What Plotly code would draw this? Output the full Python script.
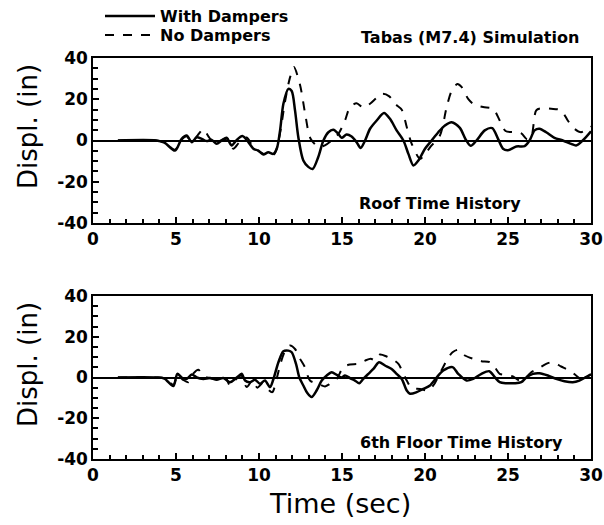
import plotly.graph_objects as go

# ---------------- data ----------------
roof_wd_t = [1.5, 3.8, 4.3, 4.94, 5.34, 5.64, 5.95, 6.25, 6.55, 6.85, 7.15, 7.45, 7.75, 8.05, 8.35, 8.66, 9.0,
             9.36, 9.66, 9.96, 10.26, 10.56, 10.86, 11.07, 11.27, 11.47, 11.77, 11.97, 12.17, 12.37, 12.67, 12.97,
             13.23, 13.57, 13.88, 14.18, 14.48, 14.78, 14.98, 15.28, 15.58, 15.88, 16.12, 16.39, 16.69, 17.09,
             17.53, 17.89, 18.29, 18.7, 19.0, 19.3, 19.6, 20.0, 20.4, 20.8, 21.2, 21.6, 22.1, 22.45, 22.75, 23.1,
             23.6, 24.05, 24.4, 24.7, 25.0, 25.5, 26.0, 26.3, 26.6, 26.9, 27.3, 27.8, 28.3, 28.8, 29.1, 29.5, 30.0]
roof_wd = [0, 0, -1, -4.9, 0.8, 2.4, -0.8, 1.6, 0.8, -0.3, 0.3, -1.6, 0, 1.3, -2.4, 0.3, 2.2,
           -0.8, -4, -4.9, -6.8, -5.7, -6.5, -4, 4.9, 17.8, 25, 24, 14.6, 1.6, -9.7, -12.8,
           -13.8, -8, 0, 4, 5.2, 3.2, 1.3, 2.9, 1.9, -0.8, -3.6, 0, 5.7, 9.7,
           13.3, 10.5, 4.9, 0, -6.5, -12.1, -9.7, -4, 0, 4, 7.3, 8.9, 6.1, 0.5, -2.6, 0,
           4.9, 6, 0.8, -4, -4.7, -2.9, -2.7, 0, 4.9, 5.7, 4, 1.3, 0, -1.6, -2.4, 0, 4.5]

roof_nd_t = [1.5, 3.8, 4.3, 4.94, 5.34, 5.64, 5.95, 6.3, 6.65, 6.95, 7.25, 7.55, 7.85, 8.1, 8.45, 8.8, 9.26,
             9.6, 9.96, 10.3, 10.6, 10.9, 11.1, 11.3, 11.55, 11.85, 12.1, 12.47, 12.8, 13.1, 13.6, 13.97,
             14.38, 14.78, 15.18, 15.48, 15.88, 16.29, 16.69, 17.09, 17.45, 17.85, 18.19, 18.6, 18.9, 19.2,
             19.7, 20.0, 20.4, 20.9, 21.3, 21.6, 21.95, 22.2, 22.6, 22.95, 23.5, 24.1, 24.5, 24.85, 25.4,
             25.8, 26.15, 26.4, 26.7, 27.0, 27.6, 28.2, 28.6, 29.0, 29.4, 29.8, 30.0]
roof_nd = [0, 0, -1, -4.5, 0.5, 2.0, -0.5, 2.5, 5.5, 2, -0.8, -0.5, 0.5, 0.8, -4, -1, 1.5,
           -2.5, -5, -6.5, -6, -6.8, -3, 5, 18, 30, 35.6, 27, 12, 1, -3.2, -2.4,
           0, 3.2, 9.7, 16.2, 18.1, 15.9, 17.8, 20.7, 22.7, 21.4, 17.8, 14.9, 6.5, -1.6,
           -8.9, -6.5, -2.4, 2.4, 16, 24, 27.4, 26, 20.2, 17.5, 16.2, 15.4, 9.7, 4.6, 4,
           3.5, 0.6, 1.8, 14.6, 15.6, 15.4, 14.6, 9.7, 5.7, 4, 5.7, 6.8]

floor_wd_t = [1.5, 3.8, 4.3, 4.84, 5.08, 5.34, 5.64, 5.95, 6.25, 6.65, 7.05, 7.45, 7.85, 8.25, 8.66, 8.96,
              9.16, 9.46, 9.76, 10.06, 10.36, 10.66, 10.86, 11.17, 11.47, 11.77, 11.97, 12.23, 12.43, 12.67,
              12.9, 13.17, 13.47, 13.78, 14.08, 14.38, 14.68, 14.98, 15.18, 15.48, 15.78, 16.04, 16.28, 16.59,
              16.89, 17.23, 17.59, 17.99, 18.29, 18.6, 18.9, 19.1, 19.5, 19.9, 20.3, 20.7, 21.1, 21.66, 22.0,
              22.5, 22.9, 23.4, 23.87, 24.2, 24.5, 24.9, 25.4, 25.8, 26.1, 26.5, 26.9, 27.4, 27.9, 28.4,
              28.9, 29.3, 29.7, 30.0]
floor_wd = [0, 0, -0.5, -4.2, 1.8, 0, -0.7, 1.5, 0, -0.7, -0.3, -1.1, -0.2, -2.3, 0, 1.8,
            -1.5, -2.3, -1.1, -3.1, -1.5, -4.7, -1, 7.5, 12.9, 13.2, 12.4, 6.7, 0, -3.9,
            -7.5, -9.6, -6.4, -1.5, 1, 2.6, 1.3, 0, 1, -0.3, -1.5, -2.8, -0.7, 1.8,
            4.2, 7.5, 5.9, 4.2, 1.8, -0.7, -6.4, -8.0, -7.2, -5.6, -3.9, 0, 3.4, 5.1, 1.8,
            -1.5, -0.7, 1.8, 3.1, 0.2, -2.3, -2.8, -2.8, -2.3, 0, 1.8, 2.1, 1, -0.7, -1.8,
            -2.3, -1.5, 0.2, 1.5]

floor_nd_t = [1.5, 3.8, 4.3, 4.84, 5.1, 5.4, 5.74, 6.05, 6.35, 6.6, 6.85, 7.2, 7.6, 8.0, 8.25, 8.6, 8.9,
              9.26, 9.6, 9.9, 10.2, 10.5, 10.8, 11.05, 11.3, 11.6, 11.87, 12.17, 12.47, 12.77, 13.07, 13.57,
              13.98, 14.28, 14.68, 15.08, 15.48, 15.98, 16.39, 16.73, 17.0, 17.29, 17.69, 18.09, 18.4, 18.7,
              18.9, 19.2, 19.7, 20.2, 20.5, 20.9, 21.3, 21.66, 22.0, 22.4, 22.9, 23.4, 23.9, 24.2, 24.5,
              24.9, 25.3, 25.7, 26.1, 26.4, 26.8, 27.3, 27.7, 28.2, 28.7, 29.1, 29.4, 29.7, 30.0]
floor_nd = [0, 0, -0.5, -3.5, 1, -1, -2.3, 2, 3.8, 1, 0, -0.5, -1, -0.5, -3.9, -1, 1,
            -4.7, -1.5, -5, -3, -5.5, -7.2, -1, 7, 13.5, 15.7, 14, 9.2, 5, -1.5, -3.1,
            -4.4, -3.1, -0.7, 5.1, 6.4, 6.7, 8.3, 9.2, 8.5, 11.3, 10.3, 8.7, 6.7, 1.8,
            -1.5, -5.1, -5.6, -6.4, -3.9, 2, 8.3, 12.4, 13.6, 10.8, 9.2, 8, 7.5, 5.1, 1.8,
            1.3, 0.5, -1.5, 0.2, 2.6, 4.2, 6.7, 7.5, 5.4, 3.4, 1, -0.7, 0.2, 1.5]

x_tick_vals = [0, 5, 10, 15, 20, 25, 30]
x_tick_text = ["0", "5", "10", "15", "20", "25", "30"]
y_tick_vals = [-40, -20, 0, 20, 40]
y_tick_text = ["-40", "-20", "0", "20", "40"]

series_names = ["With Dampers", "No Dampers"]
panel_labels = ["Roof Time History", "6th Floor Time History"]
title_text = "Tabas (M7.4) Simulation"

# ---------------- figure ----------------
FONT = "DejaVu Sans"
fig = go.Figure()

panels = [(roof_wd_t, roof_wd, roof_nd_t, roof_nd, "x", "y"),
          (floor_wd_t, floor_wd, floor_nd_t, floor_nd, "x2", "y2")]
for i, (tw, w, tn, n, xa, ya) in enumerate(panels):
    fig.add_trace(go.Scatter(x=tn, y=n, mode="lines", name=series_names[1],
                             line=dict(color="black", width=2, dash="dash", shape="spline", smoothing=0.8),
                             xaxis=xa, yaxis=ya, showlegend=(i == 0), legend="legend2"))
    fig.add_trace(go.Scatter(x=tw, y=w, mode="lines", name=series_names[0],
                             line=dict(color="black", width=2.5, shape="spline", smoothing=0.8),
                             xaxis=xa, yaxis=ya, showlegend=(i == 0), legend="legend"))

tickfont = dict(family=FONT, size=17, color="black", weight="bold")
xaxis_common = dict(range=[0, 30], tickmode="array", tickvals=x_tick_vals, ticktext=x_tick_text,
                    ticks="inside", ticklen=6, tickwidth=1.5, tickcolor="black",
                    minor=dict(tickmode="linear", tick0=0, dtick=1, ticks="inside", ticklen=4,
                               tickwidth=1.5, tickcolor="black"),
                    showline=True, linecolor="black", linewidth=1.5, mirror=True,
                    showgrid=False, zeroline=False, tickfont=tickfont, fixedrange=True)
yaxis_common = dict(range=[-40, 40], tickmode="array", tickvals=y_tick_vals, ticktext=y_tick_text,
                    ticks="inside", ticklen=6, tickwidth=1.5, tickcolor="black",
                    minor=dict(tickmode="linear", tick0=0, dtick=5, ticks="inside", ticklen=5,
                               tickwidth=1.5, tickcolor="black"),
                    showline=True, linecolor="black", linewidth=1.5, mirror=True,
                    showgrid=False, zeroline=True, zerolinecolor="black", zerolinewidth=1.5,
                    tickfont=tickfont, fixedrange=True)

top_dom = [(459 - 223) / 401, 1.0]
bot_dom = [0.0, (459 - 296) / 401]


def px_x(px):
    return (px - 93) / 498


def px_y(py):
    return (459 - py) / 401


legend_font = dict(family=FONT, size=16, color="black", weight="bold")
fig.update_layout(
    width=604, height=525,
    margin=dict(l=93, r=13, t=58, b=66, autoexpand=False),
    paper_bgcolor="white", plot_bgcolor="white",
    xaxis=dict(**xaxis_common, anchor="y", domain=[0, 1]),
    yaxis=dict(**yaxis_common, anchor="x", domain=top_dom),
    xaxis2=dict(**xaxis_common, anchor="y2", domain=[0, 1]),
    yaxis2=dict(**yaxis_common, anchor="x2", domain=bot_dom),
    legend=dict(x=px_x(100), y=px_y(16), xanchor="left", yanchor="middle", bgcolor="rgba(0,0,0,0)",
                font=legend_font, itemwidth=50, borderwidth=0),
    legend2=dict(x=px_x(100), y=px_y(35), xanchor="left", yanchor="middle", bgcolor="rgba(0,0,0,0)",
                 font=legend_font, itemwidth=50, borderwidth=0),
    showlegend=True,
)

bold16 = dict(family=FONT, size=16, color="black", weight="bold")
ann = []
ann.append(dict(text=title_text, x=px_x(470), y=px_y(37), font=bold16))
ann.append(dict(text=panel_labels[0], x=px_x(440), y=px_y(203), font=bold16))
ann.append(dict(text=panel_labels[1], x=px_x(461), y=px_y(442), font=bold16))
for cy in (127, 365):
    ann.append(dict(text="Displ. (in)", x=px_x(28), y=px_y(cy), textangle=-90,
                    font=dict(family=FONT, size=26, color="black")))
ann.append(dict(text="Time (sec)", x=px_x(340), y=px_y(503),
                font=dict(family=FONT, size=27, color="black")))
for a in ann:
    a.update(xref="paper", yref="paper", xanchor="center", yanchor="middle", showarrow=False)
fig.update_layout(annotations=ann)

fig.write_html("out.html", post_script="document.body.style.margin='0';",
               config={"displayModeBar": False})
